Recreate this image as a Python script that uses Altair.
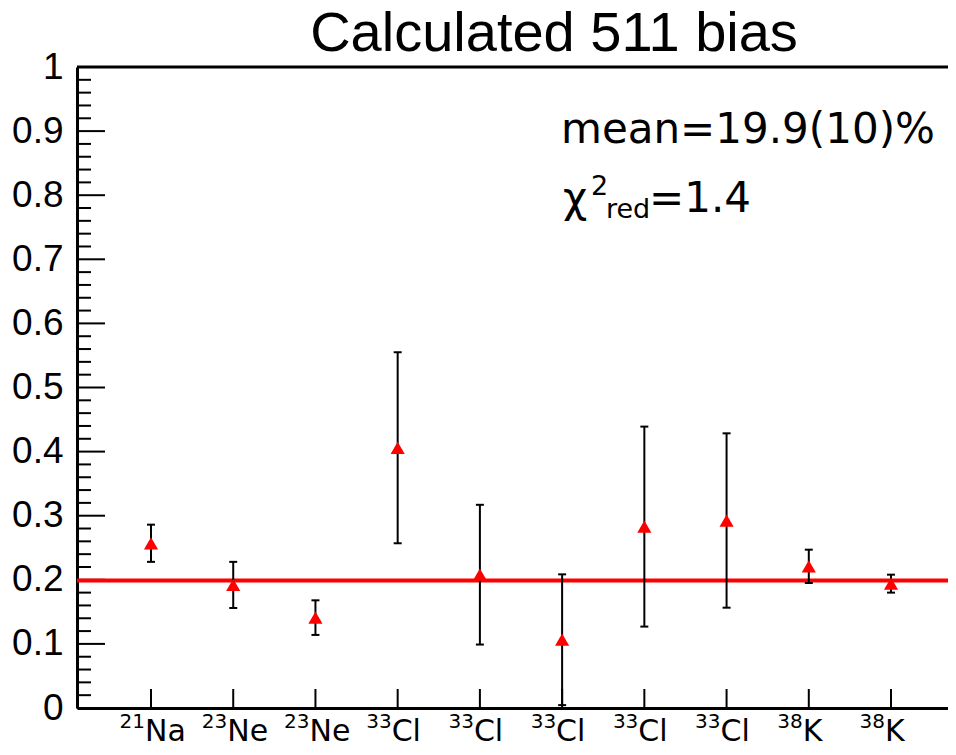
import altair as alt
import pandas as pd

# ---- data ----
positions = [1, 2, 3, 4, 5, 6, 7, 8, 9, 10]
mass_numbers = ["21", "23", "23", "33", "33", "33", "33", "33", "38", "38"]
elements = ["Na", "Ne", "Ne", "Cl", "Cl", "Cl", "Cl", "Cl", "K", "K"]
bias = [0.257, 0.192, 0.141, 0.406, 0.208, 0.1065, 0.283, 0.2925, 0.221, 0.194]
bias_err = [0.029, 0.036, 0.027, 0.149, 0.109, 0.102, 0.156, 0.136, 0.026, 0.014]
MEAN = 0.199
y_major = [0, 0.1, 0.2, 0.3, 0.4, 0.5, 0.6, 0.7, 0.8, 0.9, 1.0]
y_minor = [round(i * 0.02, 2) for i in range(51) if i % 5 != 0]

TITLE = "Calculated 511 bias"
MEAN_TXT = "mean=19.9(10)%"
CHI_TXT = ["\u03c7", "2", "red", "=1.4"]

W, H = 871, 641

df = pd.DataFrame({"pos": positions, "sup": mass_numbers, "elem": elements,
                   "val": bias, "err": bias_err})
df_major = pd.DataFrame({"t": y_major})
df_minor = pd.DataFrame({"t": y_minor})
df_mean = pd.DataFrame({"m": [MEAN]})

xs = alt.Scale(domain=[0.1, 10.693], nice=False, zero=False)
ys = alt.Scale(domain=[0, 1], nice=False, zero=False)

XAX = alt.Axis(values=positions, labels=False, ticks=False, grid=False, domain=True,
               domainWidth=3, domainColor="black", title=None)
YAX = alt.Axis(values=y_major, format=".1~f", ticks=False, grid=False, domain=True,
               domainWidth=3, domainColor="black", title=None,
               labelFont="Liberation Sans", labelFontSize=37, labelColor="black",
               labelPadding=14, labelOverlap=False)

def X(f):
    return alt.X(f, type="quantitative", scale=xs, axis=XAX)

def Y(f):
    return alt.Y(f, type="quantitative", scale=ys, axis=YAX)

base = alt.Chart(df)

# y ticks inside the frame
major_ticks = alt.Chart(df_major).mark_rule(color="black", strokeWidth=2).encode(
    y=Y("t"), x=alt.value(0), x2=alt.value(28))
minor_ticks = alt.Chart(df_minor).mark_rule(color="black", strokeWidth=2).encode(
    y=Y("t"), x=alt.value(0), x2=alt.value(14))
# x ticks inside the frame
x_ticks = base.mark_rule(color="black", strokeWidth=2).encode(
    x=X("pos"), y=alt.value(H), y2=alt.value(H - 19))
# top frame line
top_line = alt.Chart(df_mean).mark_rule(color="black", strokeWidth=3).encode(
    x=alt.value(0), x2=alt.value(W), y=alt.value(0))

mean_line = alt.Chart(df_mean).mark_rule(color="#ff0000", strokeWidth=4).encode(
    y=Y("m"), x=alt.value(0), x2=alt.value(W))

err_base = base.transform_calculate(
    lo="max(datum.val - datum.err, 0)", hi="datum.val + datum.err")
err_bars = err_base.mark_rule(color="black", strokeWidth=2).encode(
    x=X("pos"), y=Y("lo:Q"), y2="hi:Q")
cap_lo = err_base.mark_rule(color="black", strokeWidth=2, xOffset=-4, x2Offset=4).encode(
    x=X("pos"), x2="pos:Q", y=Y("lo:Q"))
cap_hi = err_base.mark_rule(color="black", strokeWidth=2, xOffset=-4, x2Offset=4).encode(
    x=X("pos"), x2="pos:Q", y=Y("hi:Q"))

points = base.mark_point(shape="triangle-up", filled=True, color="#ff0000",
                         size=200, opacity=1, strokeWidth=0).encode(
    x=X("pos"), y=Y("val"))

sup_lbl = base.mark_text(font="DejaVu Sans", fontSize=20, align="right",
                         baseline="alphabetic", dx=-6, color="black").encode(
    x=X("pos"), y=alt.value(661), text="sup:N")
elem_lbl = base.mark_text(font="DejaVu Sans", fontSize=30, align="left",
                          baseline="alphabetic", dx=-6, color="black").encode(
    x=X("pos"), y=alt.value(674), text="elem:N")

def txt(s, x, y, size, font="DejaVu Sans", align="left"):
    return alt.Chart(pd.DataFrame({"s": [s]})).mark_text(
        font=font, fontSize=size, align=align, baseline="alphabetic", color="black").encode(
        x=alt.value(x), y=alt.value(y), text="s:N")

title = txt(TITLE, 477, -16, 56, font="Liberation Sans", align="center")
mean_txt = txt(MEAN_TXT, 484, 76, 42)
chi = txt(CHI_TXT[0], 486, 145, 42)
chi_sup = txt(CHI_TXT[1], 514, 128, 27)
chi_sub = txt(CHI_TXT[2], 529, 151, 27)
chi_val = txt(CHI_TXT[3], 572, 145, 42)

chart = alt.layer(
    major_ticks, minor_ticks, x_ticks, top_line, mean_line,
    err_bars, cap_lo, cap_hi, points, sup_lbl, elem_lbl,
    title, mean_txt, chi, chi_sup, chi_sub, chi_val,
).properties(
    width=W, height=H,
    autosize=alt.AutoSizeParams(type="none"),
    padding={"left": 69, "top": 59, "right": 0, "bottom": 39},
).configure_view(stroke=None)

chart.save("out.html", embed_options={"renderer": "svg", "actions": False})
